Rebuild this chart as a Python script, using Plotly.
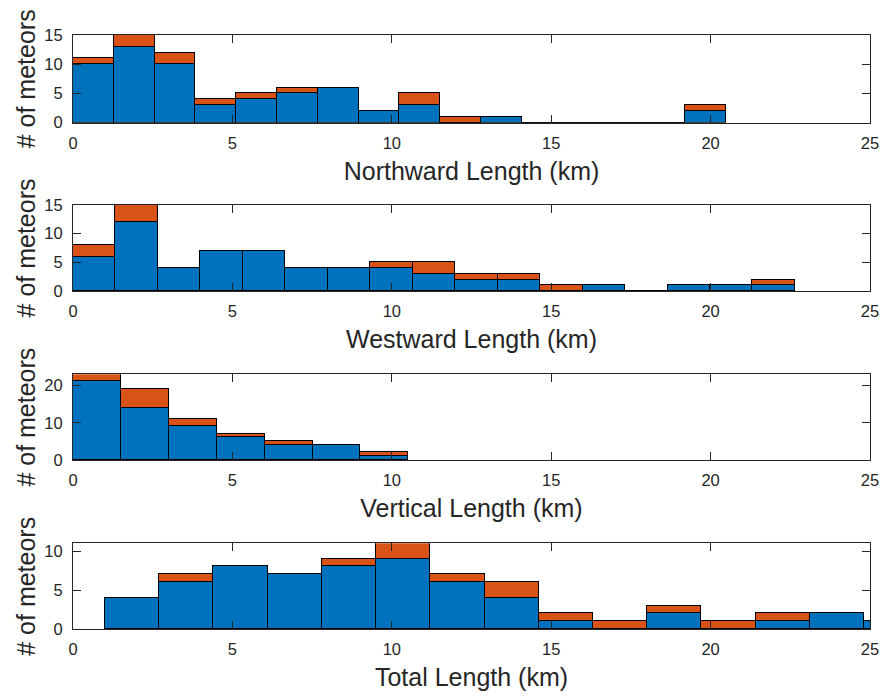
import plotly.graph_objects as go

# ---- data ----
titles = ["Northward Length (km)", "Westward Length (km)", "Vertical Length (km)", "Total Length (km)"]

north_start, north_width = 0.0, 1.280
north_blue = [10, 13, 10, 3, 4, 5, 6, 2, 3, 0, 1, 0, 0, 0, 0, 2]
north_orange = [1, 2, 2, 1, 1, 1, 0, 0, 2, 1, 0, 0, 0, 0, 0, 1]

west_start, west_width = 0.0, 1.332
west_blue = [6, 12, 4, 7, 7, 4, 4, 4, 3, 2, 2, 0, 1, 0, 1, 1, 1]
west_orange = [2, 3, 0, 0, 0, 0, 0, 1, 2, 1, 1, 1, 0, 0, 0, 0, 1]

vert_start, vert_width = 0.0, 1.503
vert_blue = [21, 14, 9, 6, 4, 4, 1]
vert_orange = [2, 5, 2, 1, 1, 0, 1]

total_start, total_width = 1.004, 1.7007
total_blue = [4, 6, 8, 7, 8, 9, 6, 4, 1, 0, 2, 0, 1, 2, 1]
total_orange = [0, 1, 0, 0, 1, 2, 1, 2, 1, 1, 1, 1, 1, 0, 0]

x_ticks = [0, 5, 10, 15, 20, 25]
y_ticks = [[0, 5, 10, 15], [0, 5, 10, 15], [0, 10, 20], [0, 5, 10]]

panels = [
    (north_start, north_width, north_blue, north_orange),
    (west_start, west_width, west_blue, west_orange),
    (vert_start, vert_width, vert_blue, vert_orange),
    (total_start, total_width, total_blue, total_orange),
]

# ---- style ----
W, H = 883, 696
BLUE = "#0072BD"
ORANGE = "#D95319"
TXT = "#262626"
FONT = "Liberation Sans, Arial, Helvetica, sans-serif"
# pixel extents of plot areas (top, bottom)
rows_px = [(35, 122.7), (205, 291), (374.3, 460), (543.3, 629.3)]

fig = go.Figure()
layout = {}
for i, (start, width, blue, orange) in enumerate(panels):
    n = len(blue)
    centers = [start + width * (k + 0.5) for k in range(n)]
    sfx = "" if i == 0 else str(i + 1)
    xa, ya = "x" + sfx, "y" + sfx
    for vals, col in ((blue, BLUE), (orange, ORANGE)):
        fig.add_trace(go.Bar(
            x=centers, y=vals, width=[width] * n, xaxis=xa, yaxis=ya,
            marker=dict(color=col, line=dict(color="black", width=1.2)),
            showlegend=False, hoverinfo="x+y",
        ))
    top, bot = rows_px[i]
    totals = [b + o for b, o in zip(blue, orange)]
    axis_common = dict(
        showline=True, mirror="ticks", linecolor=TXT, linewidth=1,
        ticks="inside", ticklen=8, tickcolor=TXT, tickwidth=1,
        showgrid=False, zeroline=False,
        tickfont=dict(family=FONT, size=16.5, color=TXT),
        automargin=False,
    )
    layout["xaxis" + sfx] = dict(
        axis_common, domain=[0, 1], range=[0, 25], tickvals=x_ticks,
        anchor=ya, ticklabelstandoff=5,
        title=dict(text=titles[i], font=dict(family=FONT, size=25, color=TXT), standoff=11),
    )
    layout["yaxis" + sfx] = dict(
        axis_common, domain=[1 - bot / H, 1 - top / H], range=[0, max(totals)],
        tickvals=y_ticks[i], anchor=xa, ticklabelstandoff=6,
        title=dict(text="# of meteors", font=dict(family=FONT, size=25, color=TXT), standoff=1),
    )

fig.update_layout(
    width=W, height=H,
    margin=dict(l=73.3, r=13, t=0, b=0),
    paper_bgcolor="white", plot_bgcolor="white",
    barmode="stack", bargap=0,
    font=dict(family=FONT, color=TXT),
    **layout,
)

fig.write_html(
    "out.html",
    config={"displayModeBar": False},
    post_script="document.body.style.margin='0';document.body.style.overflow='hidden';",
)
